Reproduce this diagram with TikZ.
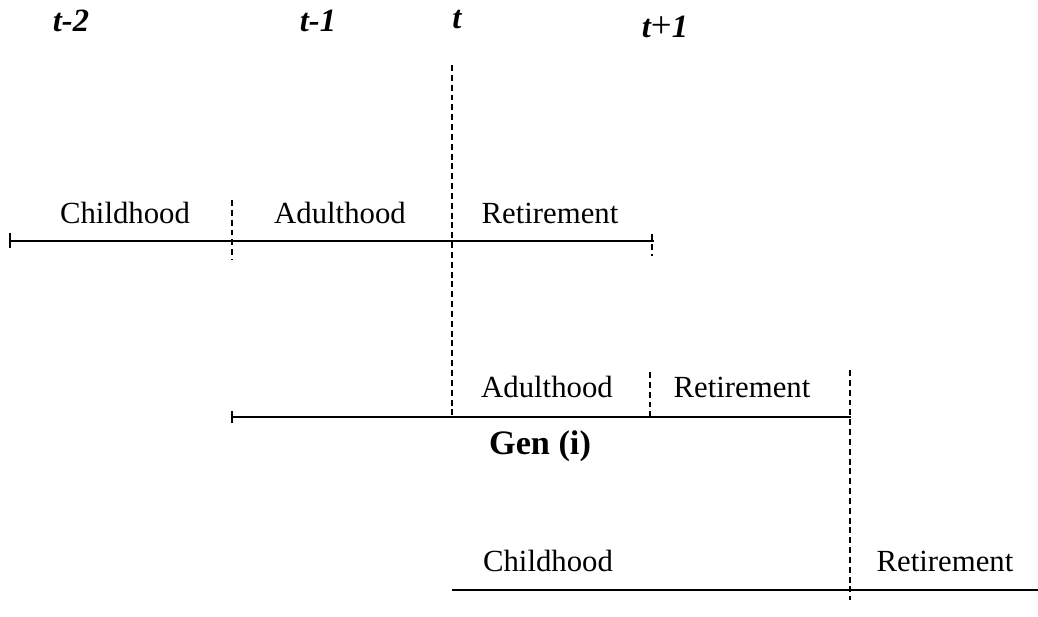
\documentclass[tikz,border=0pt]{standalone}
\usepackage{fontspec}
\setmainfont{Liberation Serif}
\begin{document}
\begin{tikzpicture}[x=0.02cm,y=-0.02cm,
		lbl/.style={font=\fontsize{17.5}{20}\selectfont, inner sep=0pt},
		period/.style={font=\fontsize{18.5}{20}\selectfont\bfseries\itshape, inner sep=0pt},
		cut/.style={line width=1.2pt, dash pattern=on 3.4pt off 2.2pt},
		life/.style={line width=1.1pt}]
			\useasboundingbox (0,0) rectangle (1038,616);
			
			% Periods
			\node[period] (tm2) at (71,21) {t-2};
			\node[period] (tm1) at (318,21) {t-1};
			\node[period] (t0) at (457,20) {t};
			\node[period] (tp1) at (665,27) {t{\mdseries\upshape\fontsize{21}{20}\selectfont+}1};
			
			% Current period
			\draw [cut] (452,65) -- (452,417);
			
			% Older generation
			\draw [life] (10,241) -- (654,241);
			\draw [life] (10,233) -- (10,248);
			\draw [cut] (232,200) -- (232,260);
			\draw [cut, line width=0.8pt] (652,234) -- (652,256);
			\node[lbl] (child1) at (125,213) {Childhood};
			\node[lbl] (adult1) at (340,213) {Adulthood};
			\node[lbl] (retire1) at (550,213) {Retirement};
			
			% Gen (i)
			\draw [life] (232,417) -- (851,417);
			\draw [life] (232,411) -- (232,423);
			\draw [cut] (650,372) -- (650,417);
			\draw [cut] (850,370) -- (850,600);
			\node[lbl] (adult2) at (547,387) {Adulthood};
			\node[lbl] (retire2) at (742,387) {Retirement};
			\node[font=\fontsize{19.5}{22}\selectfont\bfseries, inner sep=0pt] (gen) at (540,446) {Gen (i)};
			
			% Younger generation
			\draw [life] (452,590) -- (1038,590);
			\node[lbl] (child3) at (548,561) {Childhood};
			\node[lbl] (retire3) at (945,561) {Retirement};
		\end{tikzpicture}
\end{document}
